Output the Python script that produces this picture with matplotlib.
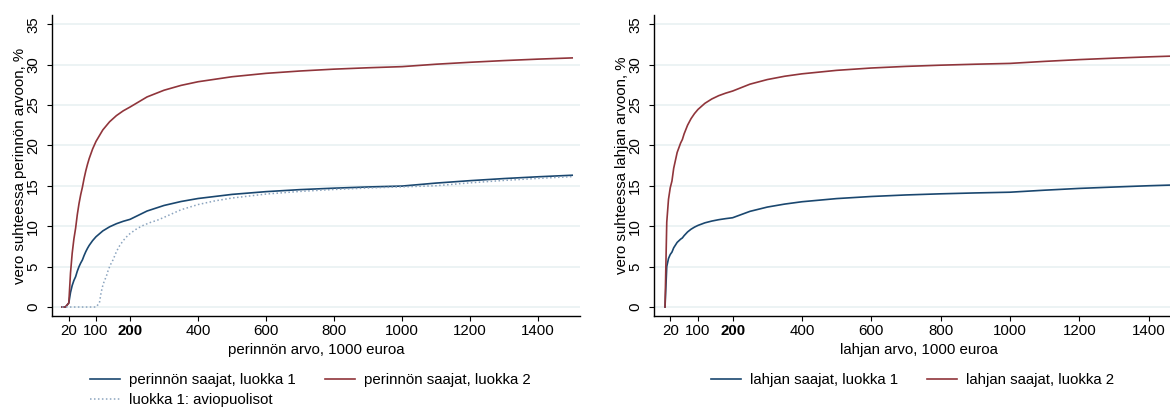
import matplotlib
matplotlib.use("Agg")
import matplotlib.pyplot as plt

# perintövero, keskimääräinen veroaste (%) perinnön arvon mukaan (1000 €)
perinto_x = [0, 10, 20, 25, 30, 35, 40, 45, 50, 55, 60, 65, 70, 75, 80, 90, 100,
             120, 140, 160, 180, 200, 250, 300, 350, 400, 500, 600, 700, 800,
             900, 1000, 1100, 1200, 1300, 1400, 1500]
perinto_l1 = [0, 0, 0.5, 1.8, 2.67, 3.29, 3.75, 4.44, 5.0, 5.45, 5.83, 6.38, 6.86,
              7.27, 7.63, 8.22, 8.7, 9.42, 9.93, 10.31, 10.61, 10.85, 11.88, 12.57,
              13.06, 13.43, 13.94, 14.28, 14.53, 14.71, 14.86, 14.97, 15.34, 15.64,
              15.9, 16.12, 16.31]
perinto_l2 = [0, 0, 0.5, 4.2, 6.67, 8.43, 9.75, 11.44, 12.8, 13.91, 14.83, 15.92,
              16.86, 17.67, 18.38, 19.56, 20.5, 21.92, 22.93, 23.69, 24.28, 24.75,
              26.0, 26.83, 27.43, 27.88, 28.5, 28.92, 29.21, 29.44, 29.61, 29.75,
              30.05, 30.29, 30.5, 30.68, 30.83]

puoliso_x = [0, 100, 110, 115, 120, 125, 130, 135, 140, 145, 150, 160, 170, 180,
             190, 200, 220, 240, 260, 280, 300, 350, 400, 450, 500, 600, 700, 800,
             900, 1000, 1100, 1200, 1300, 1400, 1500]
puoliso = [0, 0, 0.5, 1.8, 2.67, 3.29, 3.75, 4.44, 5.0, 5.45, 5.83, 6.86, 7.63,
           8.22, 8.7, 9.09, 9.69, 10.13, 10.47, 10.74, 11.1, 12.04, 12.68, 13.14,
           13.49, 13.98, 14.31, 14.55, 14.73, 14.87, 15.01, 15.37, 15.67, 15.92,
           16.14]

# lahjavero
lahja_x = [5, 10, 15, 20, 25, 30, 40, 50, 55, 60, 70, 80, 90, 100, 120, 140, 160,
           180, 200, 250, 300, 350, 400, 500, 600, 700, 800, 900, 1000, 1100, 1200,
           1300, 1400, 1500]
lahja_l1 = [0, 5.0, 6.0, 6.5, 6.8, 7.33, 8.0, 8.4, 8.55, 8.83, 9.29, 9.63, 9.89,
            10.1, 10.42, 10.64, 10.81, 10.94, 11.05, 11.84, 12.37, 12.74, 13.03,
            13.42, 13.68, 13.87, 14.01, 14.12, 14.21, 14.46, 14.68, 14.85, 15.01,
            15.14]
lahja_l2 = [0, 10.5, 13.33, 14.75, 15.6, 17.17, 19.13, 20.3, 20.73, 21.42, 22.5,
            23.31, 23.94, 24.45, 25.21, 25.75, 26.16, 26.47, 26.73, 27.58, 28.15,
            28.56, 28.86, 29.29, 29.58, 29.78, 29.93, 30.05, 30.15, 30.4, 30.62,
            30.8, 30.96, 31.1]

x_ticks = [20, 100, 200, 400, 600, 800, 1000, 1200, 1400]
y_ticks = [0, 5, 10, 15, 20, 25, 30, 35]

NAVY = "#1a476f"
MAROON = "#90353b"
DOTTED = "#8ba4bf"
GRID = "#eaf2f3"
FS = 10.8

plt.rcParams["font.family"] = ["Liberation Sans", "DejaVu Sans"]

W, H = 1170, 409
fig = plt.figure(figsize=(W / 100, H / 100), dpi=100)


def make_axes(left, right, xlim):
    ax = fig.add_axes([left / W, (H - 316) / H, (right - left) / W, 301 / H])
    ax.set_xlim(*xlim)
    ax.set_ylim(-1.11, 36.14)
    for s in ("top", "right"):
        ax.spines[s].set_visible(False)
    for s in ("left", "bottom"):
        ax.spines[s].set_linewidth(1.0)
    ax.set_yticks(y_ticks)
    ax.set_xticks(x_ticks)
    ax.grid(axis="y", color=GRID, linewidth=1.3)
    ax.set_axisbelow(True)
    ax.tick_params(axis="both", direction="out", length=3.6, width=0.8,
                   labelsize=FS, colors="black")
    ax.tick_params(axis="x", pad=2.5)
    ax.tick_params(axis="y", pad=5)
    plt.setp(ax.get_yticklabels(), rotation=90, va="center")
    for lab in ax.get_xticklabels():
        if lab.get_text() == "200":
            lab.set_fontweight("bold")
    return ax


ax1 = make_axes(52, 580, (-29.4, 1523))
ax1.plot(perinto_x, perinto_l1, color=NAVY, lw=1.2, label="perinnön saajat, luokka 1")
ax1.plot(perinto_x, perinto_l2, color=MAROON, lw=1.2, label="perinnön saajat, luokka 2")
ax1.plot(puoliso_x, puoliso, color=DOTTED, lw=1.1, linestyle=(0, (1, 1.6)),
         label="luokka 1: aviopuolisot")
ax1.set_xlabel("perinnön arvo, 1000 euroa", fontsize=FS, labelpad=3)
ax1.set_ylabel("vero suhteessa perinnön arvoon, %", fontsize=FS, labelpad=-1)

ax2 = make_axes(654, 1184, (-26.8, 1502))
ax2.plot(lahja_x, lahja_l1, color=NAVY, lw=1.2, label="lahjan saajat, luokka 1")
ax2.plot(lahja_x, lahja_l2, color=MAROON, lw=1.2, label="lahjan saajat, luokka 2")
ax2.set_xlabel("lahjan arvo, 1000 euroa", fontsize=FS, labelpad=3)
ax2.set_ylabel("vero suhteessa lahjan arvoon, %", fontsize=FS, labelpad=-1)

leg_opts = dict(loc="upper left", ncol=2, frameon=False, fontsize=FS,
                handlelength=2.0, handletextpad=0.6, columnspacing=1.95,
                labelspacing=0.4, borderpad=0, borderaxespad=0)

h, l = ax1.get_legend_handles_labels()
# rivijärjestys: luokka 1, luokka 2 / aviopuolisot
fig.legend([h[0], h[2], h[1]], [l[0], l[2], l[1]],
           bbox_to_anchor=(90 / W, (H - 373) / H), **leg_opts)
fig.legend(*ax2.get_legend_handles_labels(),
           bbox_to_anchor=(711 / W, (H - 373) / H), **leg_opts)

fig.savefig("out.png", dpi=100)
